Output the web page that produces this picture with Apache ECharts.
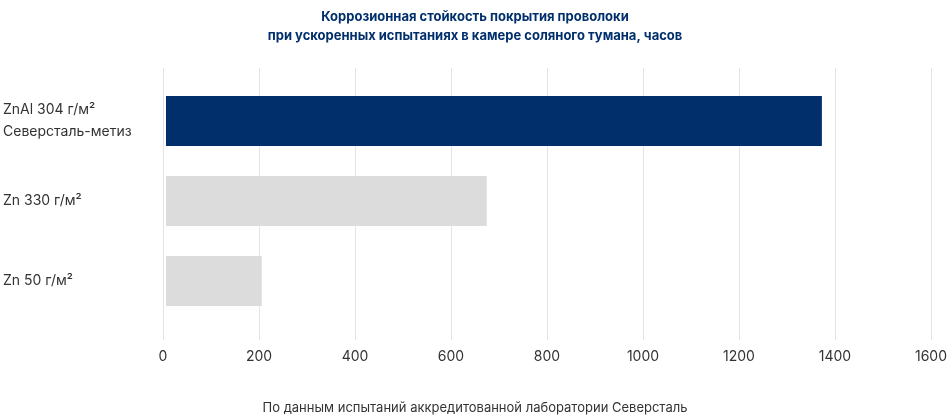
<!DOCTYPE html>
<html><head><meta charset="utf-8">
<script src="https://cdn.jsdelivr.net/npm/echarts@6/dist/echarts.min.js"></script>
<style>html,body{margin:0;padding:0;background:#fff}#c{width:950px;height:420px}</style>
</head><body><div id="c"></div>
<script>
// данные
var categories = ["Zn 50 г/м²", "Zn 330 г/м²", "ZnAl 304 г/м²\nСеверсталь-метиз"];
var hours = [200, 670, 1370];
var barColors = ["#dcdcdc", "#dcdcdc", "#002f6c"];
var xTicks = [0, 200, 400, 600, 800, 1000, 1200, 1400, 1600];

var chart = echarts.init(document.getElementById("c"));
var font = "Inter, 'Noto Sans', sans-serif";

chart.setOption({
    animation: false,
    title: {
        text: "Коррозионная стойкость покрытия проволоки\nпри ускоренных испытаниях в камере соляного тумана, часов",
        left: "center", top: 3,
        textStyle: {color: "#002f6c", fontSize: 13, fontWeight: "bold", lineHeight: 19, fontFamily: font}
    },
    graphic: [{
        type: "text", left: "center", top: 402,
        style: {text: "По данным испытаний аккредитованной лаборатории Северсталь", fill: "#333", fontSize: 13, fontFamily: font}
    }],
    grid: [
        {left: 163, right: 18, top: 81, height: 240},
        {left: 163, right: 18, top: 68, height: 272}
    ],
    xAxis: [
        {gridIndex: 0, type: "value", min: 0, max: 1600, interval: 200,
            axisLine: {show: false}, axisTick: {show: false}, splitLine: {show: false},
            axisLabel: {show: false}},
        {gridIndex: 1, type: "value", min: 0, max: 1600, interval: 200,
            axisLine: {show: false}, axisTick: {show: false},
            splitLine: {show: true, lineStyle: {color: "#e3e3e3"}},
            axisLabel: {color: "#333", fontSize: 14, margin: 10, fontFamily: font,
                formatter: function (v) { return xTicks.indexOf(v) >= 0 ? v : ""; }}}
    ],
    yAxis: [
        {gridIndex: 0, type: "category", data: categories,
            axisLine: {show: false}, axisTick: {show: false},
            axisLabel: {align: "left", margin: 163, color: "#333", fontSize: 14, lineHeight: 22, fontFamily: font}},
        {gridIndex: 1, type: "value", show: false}
    ],
    series: [{
        type: "bar", xAxisIndex: 0, yAxisIndex: 0, barWidth: 50, z: 3,
        data: hours.map(function (v, i) { return {value: v, itemStyle: {color: barColors[i]}}; })
    }]
});
</script>
</body></html>
